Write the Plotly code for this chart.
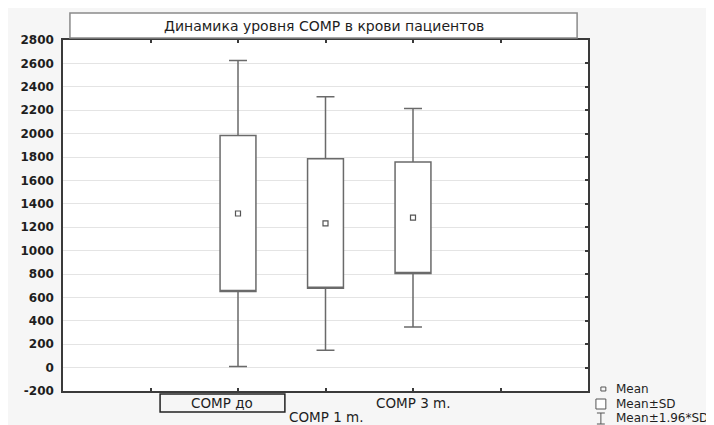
import plotly.graph_objects as go

# ---- data ----
categories = ["COMP до", "COMP 1 m.", "COMP 3 m."]
means = [1317, 1232, 1281]
sds = [667, 553, 476]
y_ticks = list(range(-200, 2801, 200))
y_ticktext = [str(v) for v in y_ticks]
title_text = "Динамика уровня COMP в крови пациентов"
legend_labels = ["Mean", "Mean±SD", "Mean±1.96*SD"]

# ---- derived ----
xpos = [i + 2 for i in range(len(categories))]
q1 = [m - s for m, s in zip(means, sds)]
q3 = [m + s for m, s in zip(means, sds)]
lo = [m - 1.96 * s for m, s in zip(means, sds)]
hi = [m + 1.96 * s for m, s in zip(means, sds)]

# page geometry (the figure sits at page offset 8,8 because of body margin)
OFF = 8
PW, PH = 714, 425
L, R, T, B = 58, 588, 40, 391
W, H = PW - OFF, PH - OFF


def px(x):
    return (x - L) / (R - L)


def py(y):
    return (B - y) / (B - T)


LINE = "#6a6a6a"
AX = "#3a3a3a"
TXT = "#1e1e1e"
FONT = "DejaVu Sans"

fig = go.Figure()
fig.add_trace(go.Box(
    x=xpos, q1=q1, median=q1, q3=q3, lowerfence=lo, upperfence=hi,
    width=0.41, whiskerwidth=0.5, boxpoints=False,
    fillcolor="white", line=dict(color=LINE, width=1.5),
    showlegend=False, hoverinfo="skip",
))
fig.add_trace(go.Scatter(
    x=xpos, y=means, mode="markers",
    marker=dict(symbol="square-open", size=5, color="#555555", line=dict(width=1.2)),
    showlegend=False, hoverinfo="skip",
))
fig.add_trace(go.Scatter(x=[None], y=[None], yaxis="y2", showlegend=False))

fig.update_layout(
    width=W, height=H,
    margin=dict(l=L - OFF, r=PW - R, t=T - OFF, b=PH - B),
    paper_bgcolor="#f6f6f6", plot_bgcolor="white",
    showlegend=False,
    xaxis=dict(
        range=[0, 6], tickvals=[1, 2, 3, 4, 5], ticktext=[""] * 5,
        ticks="inside", ticklen=3, tickwidth=1.5, tickcolor=AX,
        showline=True, linecolor=AX, linewidth=1.5, mirror="ticks",
        showgrid=False, zeroline=False,
    ),
    yaxis=dict(
        range=[-200, 2800], tickvals=y_ticks, ticktext=y_ticktext,
        ticks="", showline=True, linecolor=AX, linewidth=1.5, mirror=True,
        showgrid=True, gridcolor="#e4e4e4", gridwidth=1, zeroline=False,
        tickfont=dict(family=FONT, size=12, color=TXT, weight="bold"),
        ticklabelstandoff=5,
    ),
    yaxis2=dict(
        range=[-200, 2800], tickvals=y_ticks, overlaying="y", side="right",
        ticks="inside", ticklen=3, tickwidth=1.5, tickcolor=AX,
        showticklabels=False, showgrid=False, showline=False, zeroline=False,
    ),
)

shapes = []
annotations = []
# title box
shapes.append(dict(type="rect", xref="paper", yref="paper", x0=px(65), x1=px(577), y0=py(38), y1=py(13),
                   fillcolor="white", line=dict(color="#8a8a8a", width=1.5)))
annotations.append(dict(text=title_text, xref="paper", yref="paper", x=px(321), y=py(25.5),
                        showarrow=False, font=dict(family=FONT, size=14, color=TXT),
                        xanchor="center", yanchor="middle"))

# category labels (staggered)
label_rows = [403, 417, 403]
label_shift = [-16, 0, 0]
for i, (c, yy, sh) in enumerate(zip(categories, label_rows, label_shift)):
    annotations.append(dict(text=c, xref="x", yref="paper", x=xpos[i], y=py(yy), xshift=sh,
                            showarrow=False, font=dict(family=FONT, size=13.5, color=TXT),
                            xanchor="center", yanchor="middle"))
# selection box around first label
shapes.append(dict(type="rect", xref="paper", yref="paper", x0=px(156), x1=px(282), y0=py(412), y1=py(394),
                   fillcolor="rgba(0,0,0,0)", line=dict(color="#222222", width=1.5)))

# custom legend
shapes.append(dict(type="rect", xref="paper", yref="paper", x0=px(601), x1=px(606), y0=py(391), y1=py(387),
                   line=dict(color="#555555", width=1)))
shapes.append(dict(type="rect", xref="paper", yref="paper", x0=px(596), x1=px(606), y0=py(409), y1=py(399),
                   fillcolor="white", line=dict(color="#555555", width=1)))
shapes.append(dict(type="line", xref="paper", yref="paper", x0=px(601), x1=px(601), y0=py(424), y1=py(413),
                   line=dict(color="#555555", width=1)))
shapes.append(dict(type="line", xref="paper", yref="paper", x0=px(597), x1=px(605), y0=py(413), y1=py(413),
                   line=dict(color="#555555", width=1)))
shapes.append(dict(type="line", xref="paper", yref="paper", x0=px(597), x1=px(605), y0=py(424), y1=py(424),
                   line=dict(color="#555555", width=1)))
for lab, yy in zip(legend_labels, [389, 404, 418]):
    annotations.append(dict(text=lab, xref="paper", yref="paper", x=px(614), y=py(yy),
                            showarrow=False, font=dict(family=FONT, size=12, color=TXT),
                            xanchor="left", yanchor="middle"))

fig.update_layout(shapes=shapes, annotations=annotations)
fig.write_html("out.html")
